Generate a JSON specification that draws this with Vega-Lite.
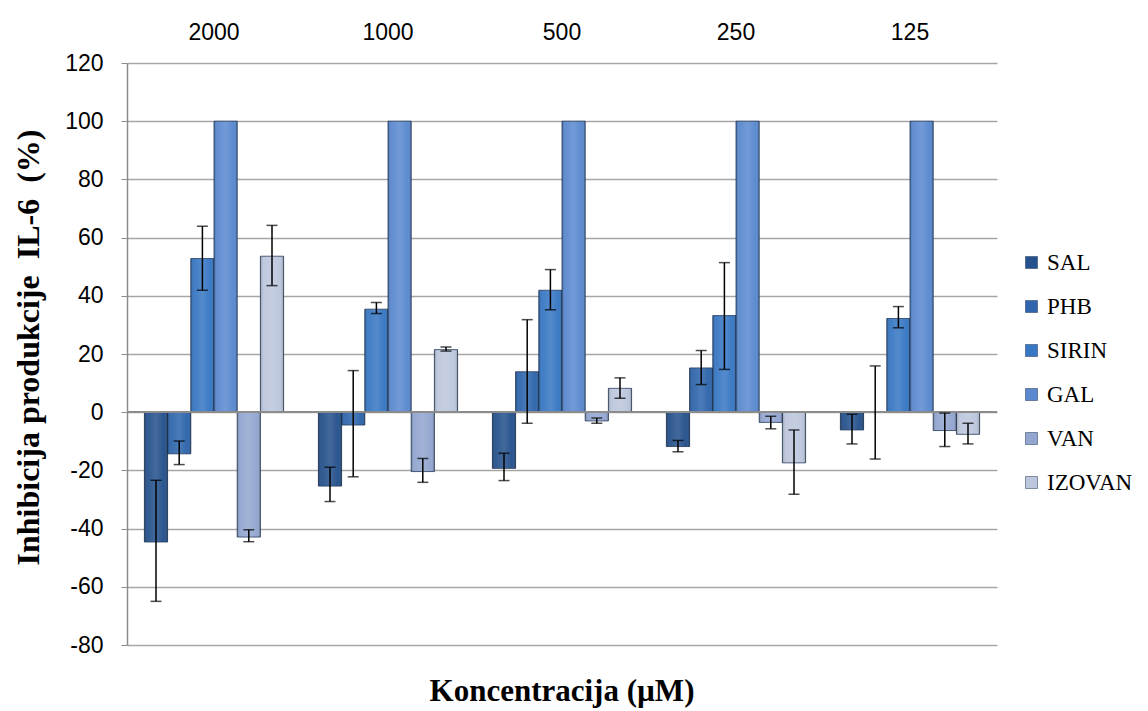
{
  "$schema": "https://vega.github.io/schema/vega-lite/v6.json",
  "autosize": "none",
  "width": 870,
  "height": 582,
  "padding": {"left": 127, "top": 63, "right": 151, "bottom": 66},
  "background": "white",
  "config": {"view": {"stroke": null}},
  "title": {"text": "Koncentracija (µM)", "orient": "bottom", "font": "Liberation Serif", "fontSize": 31, "fontWeight": "bold", "color": "black", "offset": 20, "anchor": "middle"},
  "data": {"values": [
    {"c": "2000", "s": "SAL", "v": -44.6, "lo": -65.0, "hi": -23.4},
    {"c": "2000", "s": "PHB", "v": -14.3, "lo": -18.0, "hi": -9.9},
    {"c": "2000", "s": "SIRIN", "v": 52.8, "lo": 41.9, "hi": 63.9},
    {"c": "2000", "s": "GAL", "v": 100, "lo": null, "hi": null},
    {"c": "2000", "s": "VAN", "v": -42.9, "lo": -44.5, "hi": -40.4},
    {"c": "2000", "s": "IZOVAN", "v": 53.6, "lo": 43.5, "hi": 64.2},
    {"c": "1000", "s": "SAL", "v": -25.4, "lo": -30.7, "hi": -18.9},
    {"c": "1000", "s": "PHB", "v": -4.4, "lo": -22.2, "hi": 14.3},
    {"c": "1000", "s": "SIRIN", "v": 35.4, "lo": 33.9, "hi": 37.7},
    {"c": "1000", "s": "GAL", "v": 100, "lo": null, "hi": null},
    {"c": "1000", "s": "VAN", "v": -20.4, "lo": -24.1, "hi": -15.9},
    {"c": "1000", "s": "IZOVAN", "v": 21.5, "lo": 21.0, "hi": 22.4},
    {"c": "500", "s": "SAL", "v": -19.3, "lo": -23.5, "hi": -14.1},
    {"c": "500", "s": "PHB", "v": 13.9, "lo": -3.8, "hi": 31.8},
    {"c": "500", "s": "SIRIN", "v": 41.9, "lo": 35.2, "hi": 49.0},
    {"c": "500", "s": "GAL", "v": 100, "lo": null, "hi": null},
    {"c": "500", "s": "VAN", "v": -3.0, "lo": -3.8, "hi": -2.0},
    {"c": "500", "s": "IZOVAN", "v": 8.2, "lo": 4.8, "hi": 11.8},
    {"c": "250", "s": "SAL", "v": -11.8, "lo": -13.6, "hi": -9.7},
    {"c": "250", "s": "PHB", "v": 15.2, "lo": 9.5, "hi": 21.2},
    {"c": "250", "s": "SIRIN", "v": 33.2, "lo": 14.7, "hi": 51.4},
    {"c": "250", "s": "GAL", "v": 100, "lo": null, "hi": null},
    {"c": "250", "s": "VAN", "v": -3.5, "lo": -5.7, "hi": -1.4},
    {"c": "250", "s": "IZOVAN", "v": -17.4, "lo": -28.2, "hi": -6.1},
    {"c": "125", "s": "SAL", "v": -6.1, "lo": -10.9, "hi": -0.7},
    {"c": "125", "s": "PHB", "v": 0.0, "lo": -16.1, "hi": 15.9},
    {"c": "125", "s": "SIRIN", "v": 32.2, "lo": 29.0, "hi": 36.3},
    {"c": "125", "s": "GAL", "v": 100, "lo": null, "hi": null},
    {"c": "125", "s": "VAN", "v": -6.3, "lo": -11.8, "hi": -0.3},
    {"c": "125", "s": "IZOVAN", "v": -7.6, "lo": -10.9, "hi": -3.8}
  ]},
  "encoding": {
    "x": {"field": "c", "type": "nominal", "sort": ["2000", "1000", "500", "250", "125"],
      "scale": {"paddingInner": 0.2, "paddingOuter": 0.1},
      "axis": {"orient": "top", "title": null, "ticks": false, "domain": false, "labelAngle": 0,
        "labelFont": "Liberation Sans", "labelFontSize": 23, "labelColor": "black", "labelPadding": 19}},
    "xOffset": {"field": "s", "type": "nominal", "sort": ["SAL", "PHB", "SIRIN", "GAL", "VAN", "IZOVAN"]}
  },
  "layer": [
    {
      "mark": {"type": "bar", "stroke": "#1e3556", "strokeWidth": 0.8},
      "encoding": {
        "y": {"field": "v", "type": "quantitative",
          "scale": {"domain": [-80, 120], "nice": false},
          "axis": {"values": [-80, -60, -40, -20, 0, 20, 40, 60, 80, 100, 120],
            "labelExpr": "'' + datum.value",
            "title": "Inhibicija produkcije \u00a0IL-6 \u00a0(%)", "titleFont": "Liberation Serif", "titleFontSize": 32,
            "titleFontWeight": "bold", "titleColor": "black", "titleX": -99, "titleY": 284, "titleAngle": -90, "titleBaseline": "middle", "titleAlign": "center",
            "labelFont": "Liberation Sans", "labelFontSize": 23, "labelColor": "black", "labelPadding": 18,
            "tickSize": 6, "tickColor": "#8c8c8c", "domainColor": "#8c8c8c", "domainWidth": 1.5,
            "grid": true, "gridColor": "#a6a6a6", "gridWidth": 1.5}},
        "color": {"field": "s", "type": "nominal", "sort": ["SAL", "PHB", "SIRIN", "GAL", "VAN", "IZOVAN"],
          "scale": {"range": ["#25518c", "#2e65ac", "#3777c3", "#5a89cf", "#93a6d0", "#bcc6dc"]},
          "legend": {"title": null, "orient": "none", "legendX": 893, "legendY": 188,
            "symbolType": "square", "symbolSize": 144, "symbolStrokeColor": "#1e3556", "symbolStrokeWidth": 0.5,
            "labelFont": "Liberation Serif", "labelFontSize": 23, "labelColor": "black",
            "rowPadding": 20, "labelOffset": 4}}
      }
    },
    {
      "mark": {"type": "bar", "strokeWidth": 0,
        "color": {"gradient": "linear", "x1": 0, "y1": 0, "x2": 1, "y2": 0,
          "stops": [
            {"offset": 0, "color": "rgba(0,0,0,0.22)"},
            {"offset": 0.15, "color": "rgba(255,255,255,0.05)"},
            {"offset": 0.5, "color": "rgba(255,255,255,0.14)"},
            {"offset": 0.85, "color": "rgba(255,255,255,0.02)"},
            {"offset": 1, "color": "rgba(0,0,0,0.25)"}]}},
      "encoding": {"y": {"field": "v", "type": "quantitative"}}
    },
    {
      "mark": {"type": "rule", "color": "#8c8c8c", "strokeWidth": 1.5},
      "encoding": {"x": null, "xOffset": null, "y": {"datum": 0, "type": "quantitative"}}
    },
    {
      "mark": {"type": "rule", "color": "black", "strokeWidth": 1.5},
      "encoding": {"y": {"field": "lo", "type": "quantitative"}, "y2": {"field": "hi"}}
    },
    {
      "mark": {"type": "tick", "color": "black", "thickness": 1.5, "size": 11, "orient": "horizontal"},
      "encoding": {"y": {"field": "lo", "type": "quantitative"}}
    },
    {
      "mark": {"type": "tick", "color": "black", "thickness": 1.5, "size": 11, "orient": "horizontal"},
      "encoding": {"y": {"field": "hi", "type": "quantitative"}}
    }
  ]
}
